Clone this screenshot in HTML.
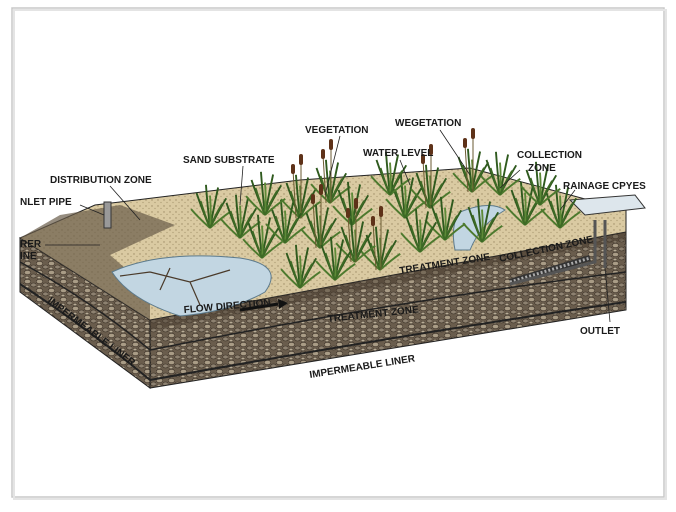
<!DOCTYPE html>
<html><head><meta charset="utf-8"><style>
html,body{margin:0;padding:0;background:#fff;width:676px;height:512px;overflow:hidden}
svg{display:block}
text{font-family:"Liberation Sans",sans-serif;font-weight:bold;font-size:10px;fill:#1a1a1a}
</style></head><body>
<svg width="676" height="512" viewBox="0 0 676 512">
<defs>
<pattern id="st" width="12" height="9" patternUnits="userSpaceOnUse">
<rect width="12" height="9" fill="#6a5d4d"/>
<ellipse cx="3.5" cy="2.5" rx="3.3" ry="2.2" fill="#a99c86" stroke="#3a3026" stroke-width=".6"/>
<ellipse cx="9.5" cy="6" rx="2.8" ry="2" fill="#8d8170" stroke="#3a3026" stroke-width=".6"/>
<ellipse cx="3" cy="7.5" rx="2" ry="1.3" fill="#b8ac96" stroke="#3a3026" stroke-width=".5"/>
</pattern>
<pattern id="sd" width="6" height="6" patternUnits="userSpaceOnUse">
<rect width="6" height="6" fill="#dacaa2"/><circle cx="2" cy="2" r=".7" fill="#9c8a64"/><circle cx="5" cy="4.5" r=".6" fill="#a99870"/>
</pattern>
<g id="g0" stroke="#2f5a1e" stroke-width="1.4" fill="none">
<path d="M0 0 Q-6 -14 -10 -26"/><path d="M0 0 Q-2 -18 -3 -32"/><path d="M0 0 Q3 -16 6 -30"/><path d="M0 0 Q6 -12 12 -22"/><path d="M0 0 Q-9 -8 -14 -14" stroke="#4d7a2e"/><path d="M0 0 Q1 -12 0 -24" stroke="#5e8a38"/><path d="M0 0 Q9 -8 15 -12" stroke="#4d7a2e"/><path d="M0 0 Q-4 -10 -7 -20" stroke="#3d6a25"/><path d="M0 0 Q4 -10 9 -18" stroke="#3d6a25"/>
</g>
<g id="grass"><use href="#g0" transform="scale(1.35)"/></g>
<g id="cat">
<use href="#grass"/>
<path d="M1 0 L1 -58" stroke="#6a5a30" stroke-width="1"/><rect x="-1" y="-64" width="4" height="11" rx="2" fill="#5e3219"/>
<path d="M-4 0 L-7 -48" stroke="#6a5a30" stroke-width="1"/><rect x="-9" y="-54" width="4" height="10" rx="2" fill="#5e3219"/>
</g>
</defs>
<rect x="12" y="8" width="652" height="489" fill="#fff" stroke="#c8c8c8" stroke-width="1.5"/>
<rect x="14" y="10" width="652" height="489" fill="none" stroke="#e4e4e4" stroke-width="2"/>
<polygon points="20,238 150,320 150,388 20,292" fill="url(#st)" stroke="#222" stroke-width="1"/>
<polygon points="150,320 626,232 626,310 150,388" fill="url(#st)" stroke="#222" stroke-width="1"/>
<path d="M20,262 Q90,300 150,350 Q400,300 626,272" fill="none" stroke="#222" stroke-width="1.5"/>
<path d="M20,284 Q90,330 150,380 Q400,335 626,302" fill="none" stroke="#222" stroke-width="2"/>
<polygon points="20,238 95,205 300,180 470,168 626,210 626,232 150,320" fill="url(#sd)" stroke="#222" stroke-width="1"/>
<polygon points="20,238 60,215 120,205 175,225 110,255 150,290 150,320" fill="#6a5c4a" opacity=".7"/>
<polygon points="150,320 626,232 626,240 150,330" fill="#4a3e30" opacity=".5"/>
<path d="M112,272 Q160,250 240,258 Q285,265 265,292 Q230,312 180,316 Q130,300 112,272 Z" fill="#c2d6e2" stroke="#5c7a8c"/>
<path d="M150,272 L190,282 L230,270 M190,282 L200,305 M170,268 L160,290 M120,276 L150,272" stroke="#4a3a2a" fill="none" stroke-width="1.2"/>
<path d="M460,212 Q490,200 505,210 Q480,225 470,250 L455,250 Q450,225 460,212Z" fill="#c2d6e2" stroke="#5c7a8c"/>
<path d="M510,282 L590,258" stroke="#333" stroke-width="6"/><path d="M510,282 L590,258" stroke="#aaa" stroke-width="3" stroke-dasharray="2 2"/>
<path d="M595,220 L595,262 L510,284" stroke="#555" stroke-width="3" fill="none"/>
<path d="M605,220 L605,268" stroke="#555" stroke-width="3"/>
<polygon points="570,200 635,195 645,208 585,215" fill="#dde6ec" stroke="#333"/>
<rect x="104" y="202" width="7" height="26" fill="#999" stroke="#333"/>
<use href="#grass" x="210" y="228"/><use href="#grass" x="240" y="238"/><use href="#grass" x="262" y="258"/>
<use href="#cat" x="300" y="218"/><use href="#cat" x="330" y="203"/><use href="#grass" x="352" y="225"/>
<use href="#cat" x="380" y="270"/><use href="#cat" x="355" y="262"/><use href="#grass" x="300" y="288"/>
<use href="#grass" x="405" y="218"/><use href="#cat" x="430" y="208"/><use href="#grass" x="445" y="240"/>
<use href="#cat" x="472" y="192"/><use href="#grass" x="500" y="195"/><use href="#grass" x="420" y="252"/>
<use href="#grass" x="525" y="225"/><use href="#grass" x="560" y="228"/><use href="#grass" x="482" y="242"/>
<use href="#grass" x="285" y="243"/><use href="#cat" x="320" y="248"/><use href="#grass" x="390" y="195"/>
<use href="#grass" x="265" y="215"/><use href="#grass" x="335" y="280"/><use href="#grass" x="540" y="205"/>
<path d="M240,310 L278,304" stroke="#111" stroke-width="3"/><polygon points="278,299 288,303 279,309" fill="#111"/>
<g stroke="#222" stroke-width=".8">
<line x1="243" y1="166" x2="240" y2="205"/><line x1="340" y1="136" x2="325" y2="195"/>
<line x1="400" y1="160" x2="410" y2="185"/><line x1="440" y1="130" x2="470" y2="175"/>
<line x1="520" y1="170" x2="500" y2="188"/><line x1="110" y1="186" x2="140" y2="220"/>
<line x1="80" y1="205" x2="104" y2="215"/><line x1="45" y1="245" x2="100" y2="245"/>
<line x1="610" y1="322" x2="605" y2="268"/><line x1="575" y1="190" x2="560" y2="210"/>
</g>
<text x="305" y="133">VEGETATION</text>
<text x="395" y="126">WEGETATION</text>
<text x="183" y="163">SAND SUBSTRATE</text>
<text x="363" y="156">WATER LEVEL</text>
<text x="517" y="158">COLLECTION</text>
<text x="528" y="171">ZONE</text>
<text x="563" y="189">RAINAGE CPYES</text>
<text x="50" y="183">DISTRIBUTION ZONE</text>
<text x="20" y="205">NLET PIPE</text>
<text x="20" y="247">RER</text><text x="20" y="259">INE</text>
<text x="400" y="274" transform="rotate(-9 400 274)">TREATMENT ZONE</text>
<text x="500" y="262" transform="rotate(-12 500 262)">COLLECTION ZONE</text>
<text x="184" y="313" transform="rotate(-5 184 313)">FLOW DIRECTION</text>
<text x="328" y="322" transform="rotate(-6 328 322)">TREATMENT ZONE</text>
<text x="580" y="334">OUTLET</text>
<text x="310" y="378" transform="rotate(-9 310 378)">IMPERMEABLE LINER</text>
<text x="47" y="302" transform="rotate(37 47 302)">IMPERMEABLE LINER</text>
</svg>
</body></html>
